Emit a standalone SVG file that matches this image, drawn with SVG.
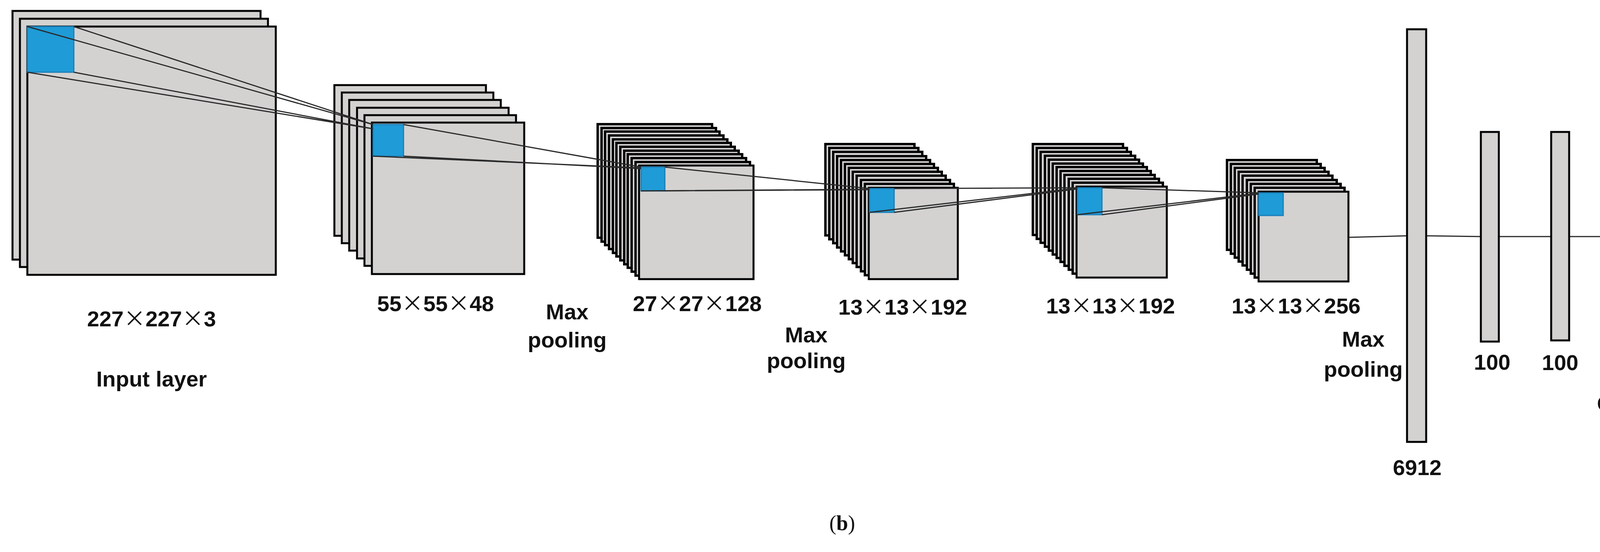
<svg xmlns="http://www.w3.org/2000/svg" width="4312" height="1414" viewBox="0 0 4312 1414">
<style>
.s{fill:#d3d2d1;stroke:#000;stroke-width:5}
.d{fill:#d3d2d1;stroke:#000;stroke-width:6}
.b{fill:#1f9bd7;stroke:#1a7fb8;stroke-width:3}
.c{stroke:#2a2a2a;stroke-width:3;fill:none}
.t{font-family:"Liberation Sans","Noto Sans CJK SC",sans-serif;font-weight:bold;font-size:56px;fill:#111;text-anchor:middle}
.x{font-family:"Noto Sans CJK SC",sans-serif;font-weight:normal}
</style>
<rect width="4312" height="1414" fill="#fff"/>
<g id="input">
<rect class="s" x="32" y="28" width="635" height="637"/>
<rect class="s" x="51" y="48" width="635" height="636"/>
<rect class="s" x="70" y="68" width="636" height="636"/>
<rect class="b" x="70" y="68" width="119" height="117"/>
<text class="t" x="388" y="836">227<tspan class="x">×</tspan>227<tspan class="x">×</tspan>3</text>
<text class="t" x="388" y="990">Input layer</text>
</g>
<g id="conv1">
<rect class="s" x="856" y="218" width="388" height="386"/>
<rect class="s" x="875" y="237" width="388" height="386"/>
<rect class="s" x="894" y="256" width="388" height="386"/>
<rect class="s" x="914" y="276" width="388" height="386"/>
<rect class="s" x="933" y="295" width="388" height="386"/>
<rect class="s" x="952" y="314" width="390" height="388"/>
<rect class="b" x="955" y="319" width="78" height="81"/>
<text class="t" x="1115" y="797">55<tspan class="x">×</tspan>55<tspan class="x">×</tspan>48</text>
</g>
<g id="pool1"><text class="t" x="1452" y="818">Max</text><text class="t" x="1452" y="890">pooling</text></g>
<g id="conv2">
<rect class="d" x="1530" y="318" width="293" height="291"/>
<rect class="d" x="1540" y="328" width="293" height="291"/>
<rect class="d" x="1549" y="337" width="293" height="291"/>
<rect class="d" x="1559" y="347" width="293" height="291"/>
<rect class="d" x="1569" y="357" width="293" height="291"/>
<rect class="d" x="1578" y="366" width="293" height="291"/>
<rect class="d" x="1588" y="376" width="293" height="291"/>
<rect class="d" x="1598" y="386" width="293" height="291"/>
<rect class="d" x="1607" y="395" width="293" height="291"/>
<rect class="d" x="1617" y="405" width="293" height="291"/>
<rect class="d" x="1627" y="415" width="293" height="291"/>
<rect class="s" x="1636" y="424" width="293" height="291"/>
<rect class="b" x="1641" y="428" width="61" height="61"/>
<text class="t" x="1785" y="797">27<tspan class="x">×</tspan>27<tspan class="x">×</tspan>128</text>
</g>
<g id="pool2"><text class="t" x="2064" y="877">Max</text><text class="t" x="2064" y="943">pooling</text></g>
<g id="conv3">
<rect class="d" x="2113" y="369" width="228" height="234"/>
<rect class="d" x="2123" y="379" width="228" height="234"/>
<rect class="d" x="2133" y="389" width="228" height="234"/>
<rect class="d" x="2143" y="400" width="228" height="234"/>
<rect class="d" x="2153" y="410" width="228" height="234"/>
<rect class="d" x="2163" y="420" width="228" height="234"/>
<rect class="d" x="2173" y="430" width="228" height="234"/>
<rect class="d" x="2183" y="440" width="228" height="234"/>
<rect class="d" x="2193" y="450" width="228" height="234"/>
<rect class="d" x="2204" y="461" width="228" height="234"/>
<rect class="d" x="2214" y="471" width="228" height="234"/>
<rect class="s" x="2224" y="481" width="228" height="234"/>
<rect class="b" x="2226" y="483" width="63" height="61"/>
<text class="t" x="2311" y="806">13<tspan class="x">×</tspan>13<tspan class="x">×</tspan>192</text>
</g>
<g id="conv4">
<rect class="d" x="2644" y="369" width="231" height="233"/>
<rect class="d" x="2654" y="379" width="231" height="233"/>
<rect class="d" x="2664" y="389" width="231" height="233"/>
<rect class="d" x="2675" y="399" width="231" height="233"/>
<rect class="d" x="2685" y="409" width="231" height="233"/>
<rect class="d" x="2695" y="419" width="231" height="233"/>
<rect class="d" x="2705" y="428" width="231" height="233"/>
<rect class="d" x="2715" y="438" width="231" height="233"/>
<rect class="d" x="2725" y="448" width="231" height="233"/>
<rect class="d" x="2736" y="458" width="231" height="233"/>
<rect class="d" x="2746" y="468" width="231" height="233"/>
<rect class="s" x="2756" y="478" width="231" height="233"/>
<rect class="b" x="2758" y="481" width="63" height="69"/>
<text class="t" x="2843" y="803">13<tspan class="x">×</tspan>13<tspan class="x">×</tspan>192</text>
</g>
<g id="conv5">
<rect class="d" x="3141" y="410" width="230" height="230"/>
<rect class="d" x="3151" y="420" width="230" height="230"/>
<rect class="d" x="3161" y="430" width="230" height="230"/>
<rect class="d" x="3171" y="440" width="230" height="230"/>
<rect class="d" x="3181" y="450" width="230" height="230"/>
<rect class="d" x="3192" y="461" width="230" height="230"/>
<rect class="d" x="3202" y="471" width="230" height="230"/>
<rect class="d" x="3212" y="481" width="230" height="230"/>
<rect class="s" x="3222" y="491" width="230" height="230"/>
<rect class="b" x="3222" y="494" width="63" height="58"/>
<text class="t" x="3318" y="803">13<tspan class="x">×</tspan>13<tspan class="x">×</tspan>256</text>
</g>
<g id="pool3"><text class="t" x="3490" y="888">Max</text><text class="t" x="3490" y="965">pooling</text></g>
<g id="connectors">
<path class="c" d="M70 68L955 319M189 68L955 319M70 185L955 330M189 185L955 330"/>
<path class="c" d="M1033 319L1641 428M1033 400L1641 432M955 400L1641 430"/>
<path class="c" d="M1702 428L2226 483M1702 489L2226 486M1641 489L2226 485"/>
<path class="c" d="M2289 483L2758 481M2289 544L2758 484M2226 544L2758 482"/>
<path class="c" d="M2821 481L3222 494M2821 550L3222 497M2758 550L3222 495"/>
<path class="c" d="M3452 608L3602 604M3651 604L3791 606M3837 606L3971 606M4017 606L4153 606"/>
</g>
<g id="fc1"><rect class="s" x="3602" y="75" width="49" height="1057"/><text class="t" x="3628" y="1217">6912</text></g>
<g id="fc2"><rect class="s" x="3791" y="338" width="46" height="537"/><text class="t" x="3820" y="947">100</text></g>
<g id="fc3"><rect class="s" x="3971" y="338" width="46" height="534"/><text class="t" x="3994" y="948">100</text></g>
<g id="output"><rect class="s" x="4153" y="338" width="45" height="537"/><text class="t" x="4180" y="972" font-size="54">100</text><text class="t" x="4180" y="1053" font-size="54">Output</text><text class="t" x="4180" y="1132" font-size="54">layer</text></g>
<text x="2156" y="1358" font-family="Liberation Serif,serif" font-size="54" text-anchor="middle" fill="#111">(<tspan font-weight="bold">b</tspan>)</text>
</svg>
